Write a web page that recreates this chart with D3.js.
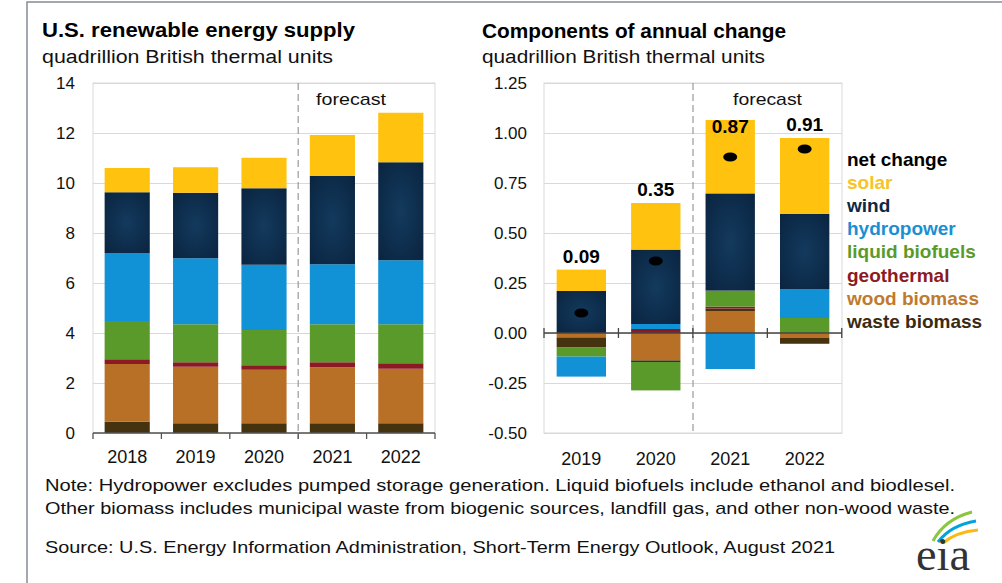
<!DOCTYPE html>
<html>
<head>
<meta charset="utf-8">
<script src="https://cdn.jsdelivr.net/npm/d3@7"></script>
<style>
  body { margin: 0; background: #fff; }
  svg { display: block; font-family: "Liberation Sans", Arial, sans-serif; }
</style>
</head>
<body>
<div id="chart-area"></div>
<script>
// left panel: supply by source, quadrillion Btu
var supplyYears = ["2018", "2019", "2020", "2021", "2022"];
var supplyWaste = [0.45, 0.39, 0.39, 0.39, 0.39];
var supplyWood = [2.31, 2.26, 2.14, 2.24, 2.18];
var supplyGeothermal = [0.19, 0.18, 0.18, 0.20, 0.22];
var supplyLiquid = [1.53, 1.52, 1.41, 1.52, 1.56];
var supplyHydro = [2.72, 2.64, 2.61, 2.40, 2.56];
var supplyWind = [2.43, 2.62, 3.06, 3.53, 3.92];
var supplySolar = [0.97, 1.02, 1.22, 1.64, 1.98];
var supplyTicks = [0, 2, 4, 6, 8, 10, 12, 14];

// right panel: components of annual change
var changeYears = ["2019", "2020", "2021", "2022"];
var changeWood = [-0.022, -0.137, 0.110, -0.025];
var changeWaste = [-0.048, -0.008, 0.012, -0.025];
var changeGeothermal = [-0.003, 0.020, 0.010, -0.004];
var changeLiquid = [-0.045, -0.142, 0.080, 0.075];
var changeHydro = [-0.100, 0.025, -0.180, 0.145];
var changeWind = [0.210, 0.372, 0.486, 0.375];
var changeSolar = [0.107, 0.233, 0.367, 0.380];
var netChange = [0.09, 0.35, 0.87, 0.91];
var changeTicks = [-0.5, -0.25, 0, 0.25, 0.5, 0.75, 1.0, 1.25];

var legendKeys = ["net", "solar", "wind", "hydro", "liquid", "geothermal", "wood", "waste"];
var legendLabels = ["net change", "solar", "wind", "hydropower", "liquid biofuels", "geothermal", "wood biomass", "waste biomass"];

var colors = {
  net: "#000000",
  solar: "#ffc20e",
  wind: "url(#windFill)",
  hydro: "#1192d6",
  liquid: "#5a9a2a",
  geothermal: "#8c1a24",
  wood: "#b86f26",
  waste: "#45320f"
};
var legendColors = {
  net: "#000000",
  solar: "#f7c325",
  wind: "#0c2a45",
  hydro: "#1b8fd3",
  liquid: "#5a9a2a",
  geothermal: "#8c1a24",
  wood: "#bf7a2e",
  waste: "#3b2a12"
};

var supplyData = supplyYears.map(function (yr, i) {
  return { year: yr, waste: supplyWaste[i], wood: supplyWood[i], geothermal: supplyGeothermal[i],
    liquid: supplyLiquid[i], hydro: supplyHydro[i], wind: supplyWind[i], solar: supplySolar[i] };
});
var changeData = changeYears.map(function (yr, i) {
  return { year: yr, wood: changeWood[i], waste: changeWaste[i], geothermal: changeGeothermal[i],
    liquid: changeLiquid[i], hydro: changeHydro[i], wind: changeWind[i], solar: changeSolar[i],
    net: netChange[i] };
});

var svg = d3.select("#chart-area").append("svg").attr("width", 1002).attr("height", 583);

// wind bars have a faint glow in the middle
var grad = svg.append("defs").append("radialGradient").attr("id", "windFill")
  .attr("cx", "50%").attr("cy", "50%").attr("r", "70%");
grad.append("stop").attr("offset", "0%").attr("stop-color", "#133a5d");
grad.append("stop").attr("offset", "100%").attr("stop-color", "#0a2440");

// outer frame
svg.append("path").attr("d", "M27,583 L27,2 L1002,2")
  .attr("fill", "none").attr("stroke", "#858b96").attr("stroke-width", 1.5);

function addText(parent, x, y, str, size, weight, fill, width, anchor) {
  var t = parent.append("text").attr("x", x).attr("y", y)
    .attr("font-size", size + "px").attr("font-weight", weight || "normal")
    .attr("fill", fill || "#000").attr("text-anchor", anchor || "start").text(str);
  if (width) t.attr("textLength", width).attr("lengthAdjust", "spacingAndGlyphs");
  return t;
}

var plotTop = 83, plotBottom = 433;

// ---------- left panel ----------
var x1 = d3.scaleBand().domain(supplyYears).range([93, 435]).paddingInner(0.34).paddingOuter(0.17);
var y1 = d3.scaleLinear().domain([0, 14]).range([plotBottom, plotTop]);

addText(svg, 42, 37, "U.S. renewable energy supply", 20, "bold", "#000", 313);
addText(svg, 42, 63, "quadrillion British thermal units", 18, "normal", "#111", 291);

var g1 = svg.append("g");
g1.append("g").attr("transform", "translate(93,0)")
  .call(d3.axisLeft(y1).tickValues(supplyTicks).tickSize(-342).tickFormat(""))
  .call(function (a) { a.select(".domain").remove(); })
  .selectAll("line").attr("stroke", "#d9d9d9");
g1.append("rect").attr("x", 93).attr("y", plotTop).attr("width", 342).attr("height", plotBottom - plotTop)
  .attr("fill", "none").attr("stroke", "#d9d9d9");

g1.append("g").attr("transform", "translate(93,0)")
  .call(d3.axisLeft(y1).tickValues(supplyTicks).tickSize(0).tickPadding(18).tickFormat(d3.format("d")))
  .call(function (a) { a.select(".domain").remove(); })
  .selectAll("text").attr("font-size", "17px").attr("fill", "#111")
  .attr("font-family", "Liberation Sans, Arial, sans-serif");

var stack1 = d3.stack().keys(["waste", "wood", "geothermal", "liquid", "hydro", "wind", "solar"]);
g1.selectAll("g.layer").data(stack1(supplyData)).enter().append("g").attr("class", "layer")
  .attr("fill", function (d) { return colors[d.key]; })
  .selectAll("rect").data(function (d) { return d; }).enter().append("rect")
  .attr("x", function (d) { return x1(d.data.year); })
  .attr("width", x1.bandwidth())
  .attr("y", function (d) { return y1(d[1]); })
  .attr("height", function (d) { return y1(d[0]) - y1(d[1]); });

// forecast divider
var split1 = x1("2021") - x1.step() * x1.paddingInner() / 2;
g1.append("line").attr("x1", split1).attr("x2", split1).attr("y1", plotTop).attr("y2", plotBottom + 6)
  .attr("stroke", "#9a9a9a").attr("stroke-width", 1.2).attr("stroke-dasharray", "7,4");
addText(g1, 316, 105, "forecast", 17, "normal", "#111", 70);

// x axis with ticks between bars
g1.append("line").attr("x1", 93).attr("x2", 435).attr("y1", plotBottom).attr("y2", plotBottom)
  .attr("stroke", "#555").attr("stroke-width", 1.3);
supplyYears.concat(["end"]).forEach(function (yr, i) {
  var bx = 93 + i * x1.step();
  g1.append("line").attr("x1", bx).attr("x2", bx).attr("y1", plotBottom).attr("y2", plotBottom + 6)
    .attr("stroke", "#555").attr("stroke-width", 1.3);
});
supplyYears.forEach(function (yr) {
  addText(g1, x1(yr) + x1.bandwidth() / 2, 463, yr, 18, "normal", "#111", null, "middle");
});

// ---------- right panel ----------
var x2 = d3.scaleBand().domain(changeYears).range([544, 842]).paddingInner(0.337).paddingOuter(0.17);
var y2 = d3.scaleLinear().domain([-0.5, 1.25]).range([plotBottom, plotTop]);

addText(svg, 482, 38, "Components of annual change", 20, "bold", "#000", 304);
addText(svg, 482, 63, "quadrillion British thermal units", 18, "normal", "#111", 283);

var g2 = svg.append("g");
g2.append("g").attr("transform", "translate(544,0)")
  .call(d3.axisLeft(y2).tickValues(changeTicks).tickSize(-298).tickFormat(""))
  .call(function (a) { a.select(".domain").remove(); })
  .selectAll("line").attr("stroke", "#d9d9d9");
g2.append("rect").attr("x", 544).attr("y", plotTop).attr("width", 298).attr("height", plotBottom - plotTop)
  .attr("fill", "none").attr("stroke", "#d9d9d9");

g2.append("g").attr("transform", "translate(544,0)")
  .call(d3.axisLeft(y2).tickValues(changeTicks).tickSize(0).tickPadding(17)
    .tickFormat(function (d) { return d.toFixed(2); }))
  .call(function (a) { a.select(".domain").remove(); })
  .selectAll("text").attr("font-size", "17px").attr("fill", "#111")
  .attr("font-family", "Liberation Sans, Arial, sans-serif");

var changeKeys = ["wood", "waste", "geothermal", "liquid", "hydro", "wind", "solar"];
var stack2 = d3.stack().keys(changeKeys).offset(d3.stackOffsetDiverging);
g2.selectAll("g.layer").data(stack2(changeData)).enter().append("g").attr("class", "layer")
  .attr("fill", function (d) { return colors[d.key]; })
  .selectAll("rect").data(function (d) { return d; }).enter().append("rect")
  .attr("x", function (d) { return x2(d.data.year); })
  .attr("width", x2.bandwidth())
  .attr("y", function (d) { return y2(d[1]); })
  .attr("height", function (d) { return Math.abs(y2(d[0]) - y2(d[1])); });

var split2 = x2("2021") - x2.step() * x2.paddingInner() / 2;
g2.append("line").attr("x1", split2).attr("x2", split2).attr("y1", plotTop).attr("y2", plotBottom)
  .attr("stroke", "#9a9a9a").attr("stroke-width", 1.2).attr("stroke-dasharray", "7,4");
addText(g2, 733, 105, "forecast", 17, "normal", "#111", 69);

// zero line with crossing ticks
g2.append("line").attr("x1", 544).attr("x2", 842).attr("y1", y2(0)).attr("y2", y2(0))
  .attr("stroke", "#444").attr("stroke-width", 1.3);
changeYears.concat(["end"]).forEach(function (yr, i) {
  var bx = 544 + i * x2.step();
  g2.append("line").attr("x1", bx).attr("x2", bx).attr("y1", y2(0) - 5).attr("y2", y2(0) + 5)
    .attr("stroke", "#444").attr("stroke-width", 1.3);
});
changeYears.forEach(function (yr) {
  addText(g2, x2(yr) + x2.bandwidth() / 2, 465, yr, 18, "normal", "#111", null, "middle");
});

// net change dots and labels
changeData.forEach(function (d) {
  var cx = x2(d.year) + x2.bandwidth() / 2;
  var posTop = 0;
  changeKeys.forEach(function (k) {
    if (d[k] > 0) posTop += d[k];
  });
  g2.append("ellipse").attr("cx", cx).attr("cy", y2(d.net) - 2).attr("rx", 7).attr("ry", 4.5)
    .attr("fill", "#000");
  var ly = posTop >= 1 ? y2(1) : y2(posTop) - 7;
  addText(g2, cx, ly, d.net.toFixed(2), 19, "bold", "#000", null, "middle");
});

// legend as coloured words
legendKeys.forEach(function (k, i) {
  addText(svg, 847, 166 + i * 23.1, legendLabels[i], 19, "bold", legendColors[k]);
});

// notes and source
addText(svg, 45, 491, "Note: Hydropower excludes pumped storage generation.  Liquid biofuels include ethanol and biodlesel.", 17, "normal", "#111", 910);
addText(svg, 45, 514, "Other biomass includes municipal waste from biogenic sources, landfill gas, and other non-wood waste.", 17, "normal", "#111", 910);
addText(svg, 45, 553, "Source: U.S. Energy Information Administration, Short-Term Energy Outlook, August 2021", 17, "normal", "#111", 790);

// eia mark
var logo = svg.append("g");
logo.append("path").attr("d", "M933,541 Q945,519 972,512").attr("fill", "none")
  .attr("stroke", "#8cc63f").attr("stroke-width", 3);
logo.append("path").attr("d", "M938,542 Q951,525 976,521").attr("fill", "none")
  .attr("stroke", "#00a3e0").attr("stroke-width", 3);
logo.append("path").attr("d", "M943,543 Q956,532 978,530").attr("fill", "none")
  .attr("stroke", "#fdb913").attr("stroke-width", 3);
logo.append("text").attr("x", 943).attr("y", 570).attr("text-anchor", "middle")
  .attr("font-family", "Liberation Serif, serif").attr("font-size", "46px")
  .attr("fill", "#333").attr("textLength", 54).attr("lengthAdjust", "spacingAndGlyphs").text("eia");
</script>
</body>
</html>
